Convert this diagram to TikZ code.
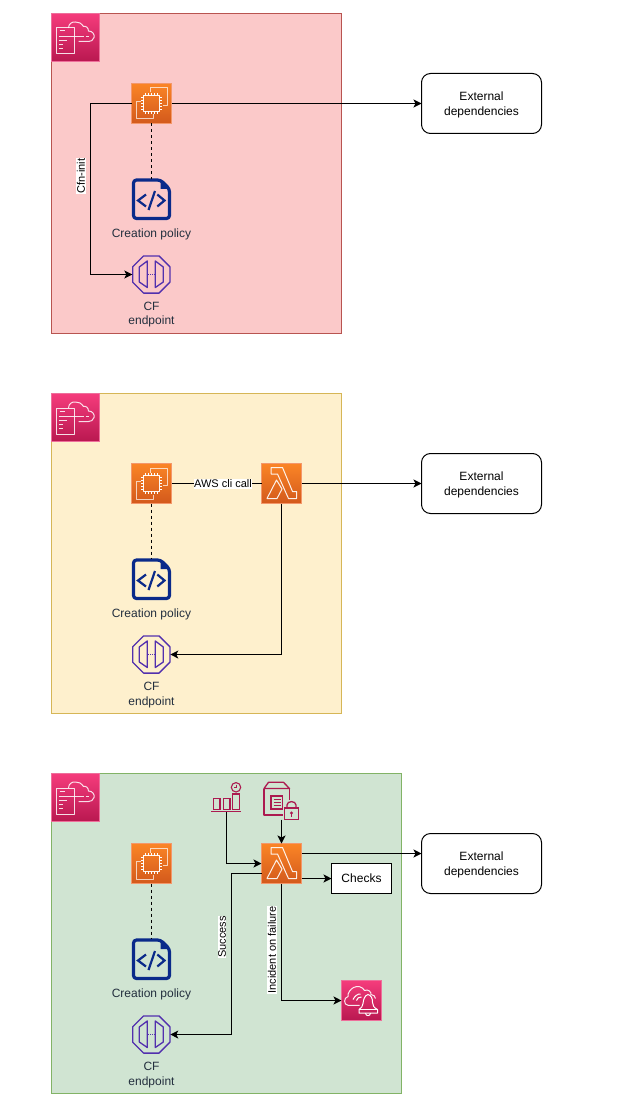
\documentclass[tikz,border=0pt]{standalone}
\usepackage{fontspec}
\setmainfont{Liberation Sans}
\usetikzlibrary{arrows.meta}
\definecolor{labelink}{HTML}{232F3E}
\definecolor{blueink}{HTML}{0A2A8A}
\definecolor{purpleink}{HTML}{5230AE}
\definecolor{pinkink}{HTML}{AC1A50}
\definecolor{orange1}{HTML}{FB8526}
\definecolor{orange2}{HTML}{D2591C}
\definecolor{orange3}{HTML}{F4976A}
\definecolor{pink1}{HTML}{F53C7C}
\definecolor{pink2}{HTML}{B91850}
\definecolor{pink3}{HTML}{EE6F9B}
\definecolor{red1edge}{HTML}{B85450}
\definecolor{red1fill}{HTML}{FBC9C9}
\definecolor{yel1edge}{HTML}{D6B656}
\definecolor{yel1fill}{HTML}{FEF0CD}
\definecolor{grn1edge}{HTML}{82B366}
\definecolor{grn1fill}{HTML}{D0E4D2}
\tikzset{
  x=1pt,y=-1pt,
  every node/.style={inner sep=0pt,outer sep=0pt},
  wire/.style={draw=black,line width=1pt},
  arrow/.style={wire,-{Stealth[length=8pt,width=8pt,inset=2pt]}},
  dashwire/.style={draw=black,line width=1pt,dash pattern=on 3pt off 3pt},
  block/.style={draw=#1,line width=1pt},
  orangebox/.style={minimum size=40pt,top color=orange1,bottom color=orange2,draw=orange3,line width=1pt},
  pinkbox/.style={minimum size=#1,top color=pink1,bottom color=pink2,draw=pink3,line width=1pt},
  extbox/.style={draw=black,fill=white,rounded corners=9pt,minimum width=120pt,minimum height=60pt,align=center,line width=1pt,font=\fontsize{12}{15}\selectfont},
  checkbox/.style={draw=black,fill=white,minimum width=60pt,minimum height=30pt,line width=1pt,font=\fontsize{12}{15}\selectfont},
  iconlabel/.style={text=labelink,align=center,font=\fontsize{12}{14.5}\selectfont},
  sidelabel/.style={fill=white,rotate=90,font=\fontsize{11}{13}\selectfont,inner xsep=0.5pt,inner ysep=0.5pt},
  hlabel/.style={fill=white,font=\fontsize{11}{13}\selectfont,inner xsep=0.5pt,inner ysep=0.5pt},
  iconslot/.style={minimum width=#1,minimum height=#1},
  white line/.style={draw=white,line width=1pt,line join=round,fill=none},
  stackic/.pic={
    \draw[white line,draw opacity=.85] (-19,-9.5) rectangle (-1,16.5);
    \draw[white line,draw opacity=.85] (-16,-6.5) -- (-11,-6.5) (-17,-1) -- (8,-1) (10,-1) -- (13,-1) (-17,3) -- (-9,3) (-17,7) -- (-13,7) (-17,11) -- (-13,11);
    \draw[white line,draw opacity=.85] (-7,-9.5) .. controls (-7,-14) and (-3,-16) .. (0,-15.5) .. controls (3,-16) and (6,-14) .. (8,-11)
      .. controls (10,-12) and (13,-10) .. (13,-6.5) .. controls (17,-6.5) and (19.5,-3) .. (18.5,0) .. controls (18,3) and (15,4) .. (13,4) -- (3,4);
  },
  ec2ic/.pic={
    \draw[white line,draw opacity=.95] (-8,-8) rectangle (8,8);
    \foreach \t in {-6,-3,0,3,6}{
      \draw[draw=white,line width=.7pt] (\t,-10.5) -- (\t,-8) (\t,8) -- (\t,10.5) (-10.5,\t) -- (-8,\t) (8,\t) -- (10.5,\t);
    }
    \draw[white line,draw opacity=.7] (-1.5,-11) -- (-1.5,-15.5) -- (16,-15.5) -- (16,2) -- (11.5,2);
    \draw[white line,draw opacity=.7] (-11,-2) -- (-15.5,-2) -- (-15.5,15.5) -- (2,15.5) -- (2,11);
  },
  lambdaic/.pic={
    \draw[white line,draw opacity=.9] (-10.5,-16) -- (1,-16) -- (11,8) -- (15,8) -- (15,15) -- (7,15) -- (-4,-9.5) -- (-10.5,-9.5) -- cycle;
    \draw[white line,draw opacity=.9] (-5,-3.5) -- (-14.5,15) -- (-4.5,15) -- (0.5,5.5) -- cycle;
  },
  docic/.pic={
    \draw[draw=blueink,line width=3.2pt,line join=round,rounded corners=3pt] (-18,-19) -- (9,-19) -- (18,-10) -- (18,19.5) -- (-18,19.5) -- cycle;
    \fill[blueink] (9,-19.5) -- (18.5,-10) -- (9,-10) -- cycle;
    \draw[draw=blueink,line width=2.2pt,line join=miter] (-5.5,-4.5) -- (-13.5,1.5) -- (-5.5,7.5) (5.8,-4.5) -- (13,1.5) -- (5.8,7.5);
    \draw[draw=blueink,line width=2.2pt] (3.5,-8) -- (-3,11);
  },
  endpointic/.pic={
    \draw[draw=purpleink,line width=1.3pt,line join=round] (-7.7,-18.6) -- (7.7,-18.6) -- (18.6,-7.7) -- (18.6,7.7) -- (7.7,18.6) -- (-7.7,18.6) -- (-18.6,7.7) -- (-18.6,-7.7) -- cycle;
    \draw[draw=purpleink,line width=1.3pt,line join=round] (-12,-7.5) -- (-4,-13.5) -- (-4,13) -- (-12,7.5) -- cycle;
    \draw[draw=purpleink,line width=1.3pt,line join=round] (12,-7.5) -- (4,-13.5) -- (4,13) -- (12,7.5) -- cycle;
    \draw[draw=purpleink,line width=.9pt,dash pattern=on 1pt off 1pt] (-3,0) -- (3.5,0);
  },
  metricsic/.pic={
    \draw[draw=pinkink,line width=1.2pt] (-13.2,1.3) rectangle (-6.5,12.3) (-3.2,1.3) rectangle (3.5,12.3) (6.2,-3) rectangle (12.8,12.3);
    \draw[draw=pinkink,line width=1.2pt] (-15.5,14.7) -- (14.8,14.7);
    \draw[draw=pinkink,line width=1.1pt] (9.5,-9.7) circle (4.7);
    \draw[draw=pinkink,line width=.8pt] (9.5,-12.5) -- (9.5,-9.7) -- (7.5,-9.7);
  },
  paramic/.pic={
    \draw[draw=pinkink,line width=1.3pt,line join=round] (-17.5,-12.5) -- (-13,-18.7) -- (2,-18.7) -- (8,-12.5) -- cycle;
    \draw[draw=pinkink,line width=1.3pt,line join=round] (-17.5,-12.5) -- (-17.5,14) -- (1,14);
    \draw[draw=pinkink,line width=1.3pt] (8,-12.5) -- (8,-1);
    \draw[draw=pinkink,line width=1.2pt] (-10.5,-5) rectangle (1,8);
    \draw[draw=pinkink,line width=.9pt] (-8,-2) -- (-1,-2) (-8,1) -- (-1,1) (-8,4) -- (-1,4);
    \draw[draw=pinkink,line width=1.3pt] (3,7) rectangle (17,18.5);
    \draw[draw=pinkink,line width=1.3pt] (5.5,7) -- (5.5,4) .. controls (5.5,-.5) and (14.5,-.5) .. (14.5,4) -- (14.5,7);
    \fill[pinkink] (10,12) circle (1.7);
    \draw[draw=pinkink,line width=1pt] (10,12) -- (10,15.5);
  },
  bellic/.pic={
    \draw[white line,draw opacity=.9] (-2,4.8) -- (-13.5,4.8) .. controls (-18,4.5) and (-18,-3) .. (-13.5,-4) .. controls (-14,-8) and (-11,-11) .. (-8,-13) .. controls (-4,-15) and (1,-14) .. (3,-10) .. controls (7,-12) and (10,-8) .. (9.5,-6) .. controls (12,-6) and (14,-4) .. (14,-2);
    \draw[white line] (-8.5,-1) .. controls (-7,-4) and (-4,-7) .. (-1,-6.5);
    \draw[white line] (-5,0) .. controls (-5,-2) and (-2,-4) .. (0,-3.5);
    \draw[white line] (6.5,-6) .. controls (3,-5) and (2,-1) .. (1.5,3) .. controls (1,6) and (0,7.5) .. (-2.5,9) -- (-2.5,12.5) -- (16,12.5) -- (16,9) .. controls (12,7) and (11.5,5) .. (11,2) .. controls (11,-2) and (10,-5) .. (6.5,-6) -- cycle;
    \draw[white line] (-2.5,9) -- (16,9);
    \draw[white line] (4,12.5) .. controls (4,16) and (9,16) .. (9,12.5);
  },
}
\begin{document}
\begin{tikzpicture}
\useasboundingbox (0,0) rectangle (640,1115);
% ---- blocks
\node[block=red1edge,fill=red1fill,minimum width=290pt,minimum height=320pt,anchor=north west] (b1) at (51.5,13.5) {};
\node[block=yel1edge,fill=yel1fill,minimum width=290pt,minimum height=320pt,anchor=north west] (b2) at (51.5,393.5) {};
\node[block=grn1edge,fill=grn1fill,minimum width=350pt,minimum height=320pt,anchor=north west] (b3) at (51.5,773.5) {};
% ---- stack icons
\node[pinkbox=48pt] (s1) at (75.5,37.5) {}; \pic at (s1.center) {stackic};
\node[pinkbox=48pt] (s2) at (75.5,417.5) {}; \pic at (s2.center) {stackic};
\node[pinkbox=48pt] (s3) at (75.5,797.5) {}; \pic at (s3.center) {stackic};
% ---- panel 1
\node[orangebox] (e1) at (151.5,103.5) {}; \pic at (e1.center) {ec2ic};
\node[iconslot=40pt] (d1) at (151.5,199) {}; \pic at (d1.center) {docic};
\node[iconlabel] (dl1) at (151.5,234.8) {Creation policy};
\node[iconslot=38pt] (c1) at (151.3,274.5) {}; \pic at (c1.center) {endpointic};
\node[iconlabel] (cl1) at (151.5,314.8) {CF\\endpoint};
\node[extbox,text depth=0pt] (x1) at (481.5,103.5) {\raisebox{-0.8pt}{External}\\\raisebox{-0.8pt}{dependencies}};
\draw[arrow] (e1.east) -- (x1.west);
\draw[dashwire] (e1.south) -- (d1.north);
\draw[arrow] (e1.west) -- ([xshift=-41pt]e1.west) |- (c1.west);
\node[sidelabel] (t1) at (81,176) {Cfn-init};
% ---- panel 2
\node[orangebox] (e2) at (151.5,483.5) {}; \pic at (e2.center) {ec2ic};
\node[orangebox] (l2) at (281.5,483.5) {}; \pic at (l2.center) {lambdaic};
\node[iconslot=40pt] (d2) at (151.5,579) {}; \pic at (d2.center) {docic};
\node[iconlabel] (dl2) at (151.5,614.8) {Creation policy};
\node[iconslot=38pt] (c2) at (151.3,654.5) {}; \pic at (c2.center) {endpointic};
\node[iconlabel] (cl2) at (151.5,694.8) {CF\\endpoint};
\node[extbox,text depth=0pt] (x2) at (481.5,483.5) {\raisebox{-0.8pt}{External}\\\raisebox{-0.8pt}{dependencies}};
\draw[wire] (e2.east) -- (l2.west);
\node[hlabel] (t2) at (223,484) {AWS cli call};
\draw[arrow] (l2.east) -- (x2.west);
\draw[dashwire] (e2.south) -- (d2.north);
\draw[arrow] (l2.south) |- (c2.east);
% ---- panel 3
\node[orangebox] (e3) at (151.5,863.5) {}; \pic at (e3.center) {ec2ic};
\node[orangebox] (l3) at (281.5,863.5) {}; \pic at (l3.center) {lambdaic};
\node[iconslot=40pt] (d3) at (151.5,959) {}; \pic at (d3.center) {docic};
\node[iconlabel] (dl3) at (151.5,994.8) {Creation policy};
\node[iconslot=38pt] (c3) at (151.3,1034.5) {}; \pic at (c3.center) {endpointic};
\node[iconlabel] (cl3) at (151.5,1074.8) {CF\\endpoint};
\node[extbox,text depth=0pt] (x3) at (481.5,863.5) {\raisebox{-0.8pt}{External}\\\raisebox{-0.8pt}{dependencies}};
\node[checkbox] (k3) at (361.5,878.5) {Checks};
\node[iconslot=30pt] (m3) at (226.5,797) {}; \pic at (m3.center) {metricsic};
\node[iconslot=37pt] (p3) at (281.5,801) {}; \pic at (p3.center) {paramic};
\node[pinkbox=40pt] (n3) at (361.5,1000.5) {}; \pic at (n3.center) {bellic};
\draw[dashwire] (e3.south) -- (d3.north);
\draw[arrow] (m3.south) |- (l3.west);
\draw[arrow] (p3.south) -- (l3.north);
\draw[arrow] ([yshift=10pt]l3.east) -- ([yshift=10pt]l3.east -| x3.west);
\draw[arrow] ([yshift=-15pt]l3.east) -- (k3.west);
\draw[arrow] ([yshift=-10pt]l3.west) -- ([yshift=-10pt,xshift=-30pt]l3.west) |- (c3.east);
\draw[arrow] (l3.south) |- (n3.west);
\node[sidelabel] (t3) at (222,937) {Success};
\node[sidelabel] (t4) at (272,950) {Incident on failure};
\end{tikzpicture}
\end{document}
